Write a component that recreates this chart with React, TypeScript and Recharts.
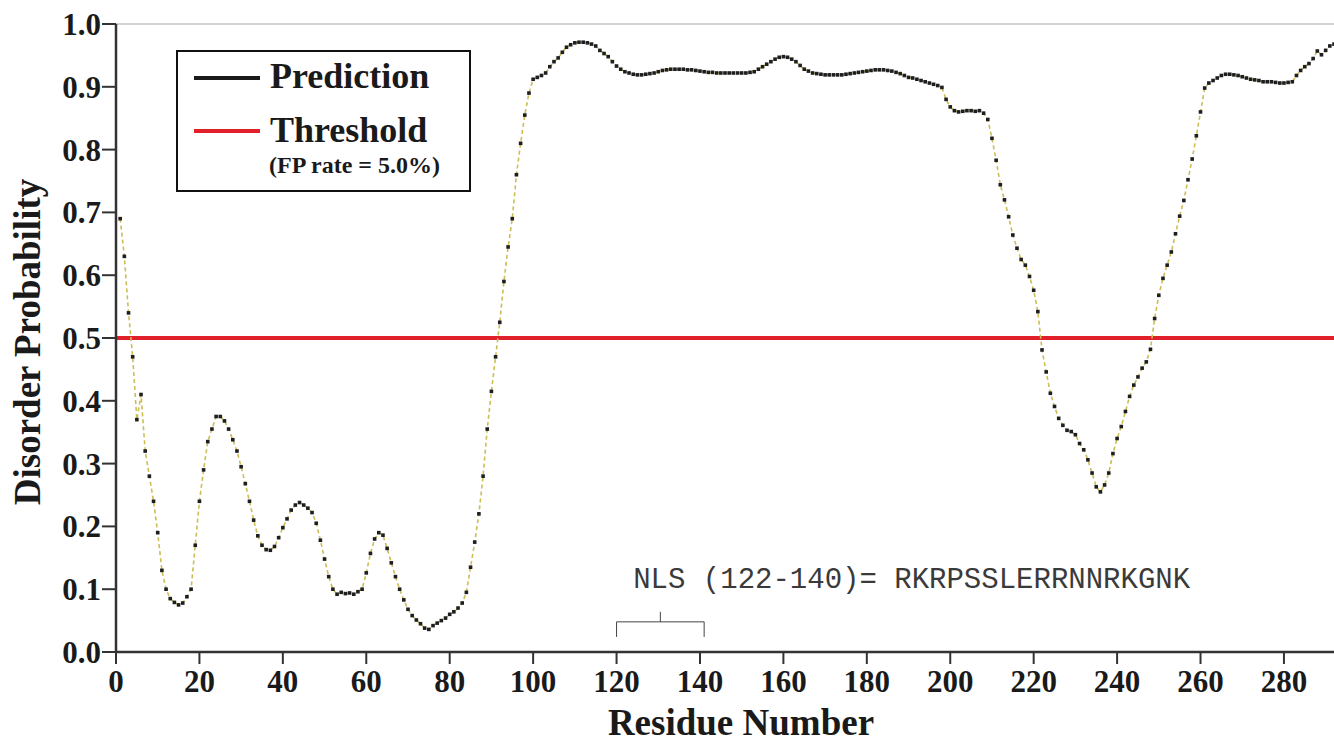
import { LineChart, Line, XAxis, YAxis, ReferenceLine, ReferenceDot } from 'recharts'

// disorder probability per residue, residues 1..292
const disorder = [
  0.69, 0.63, 0.54, 0.47, 0.37, 0.41, 0.32, 0.28, 0.24, 0.19,
  0.13, 0.10, 0.085, 0.079, 0.075, 0.078, 0.088, 0.10, 0.17, 0.24,
  0.29, 0.335, 0.355, 0.375, 0.375, 0.368, 0.355, 0.338, 0.32, 0.295,
  0.268, 0.24, 0.21, 0.185, 0.17, 0.163, 0.162, 0.168, 0.182, 0.198,
  0.212, 0.226, 0.234, 0.238, 0.234, 0.229, 0.222, 0.205, 0.178, 0.148,
  0.12, 0.10, 0.092, 0.095, 0.093, 0.094, 0.092, 0.096, 0.10, 0.126,
  0.157, 0.18, 0.19, 0.186, 0.165, 0.142, 0.12, 0.10, 0.083, 0.068,
  0.058, 0.051, 0.045, 0.038, 0.036, 0.042, 0.046, 0.05, 0.054, 0.06,
  0.064, 0.07, 0.078, 0.095, 0.135, 0.175, 0.22, 0.28, 0.355, 0.415,
  0.47, 0.525, 0.59, 0.645, 0.69, 0.76, 0.81, 0.855, 0.89, 0.912,
  0.915, 0.918, 0.922, 0.932, 0.94, 0.946, 0.955, 0.963, 0.967, 0.97,
  0.971, 0.971, 0.97, 0.968, 0.965, 0.958, 0.953, 0.948, 0.94, 0.933,
  0.928, 0.924, 0.922, 0.92, 0.919, 0.919, 0.92, 0.921, 0.922, 0.924,
  0.926, 0.927, 0.928, 0.928, 0.928, 0.928, 0.927, 0.927, 0.926, 0.925,
  0.924, 0.923, 0.923, 0.922, 0.922, 0.922, 0.922, 0.922, 0.922, 0.922,
  0.922, 0.923, 0.924, 0.928, 0.932, 0.936, 0.94, 0.944, 0.947, 0.948,
  0.947, 0.944, 0.94, 0.934, 0.928, 0.925, 0.922, 0.921, 0.92, 0.919,
  0.919, 0.919, 0.919, 0.919, 0.92, 0.921, 0.922, 0.923, 0.924, 0.925,
  0.926, 0.927, 0.927, 0.927, 0.926, 0.925, 0.923, 0.921, 0.918, 0.915,
  0.914, 0.912, 0.91, 0.908, 0.906, 0.904, 0.902, 0.899, 0.88, 0.868,
  0.862, 0.86, 0.861, 0.862, 0.862, 0.861, 0.862, 0.858, 0.848, 0.818,
  0.783, 0.744, 0.72, 0.693, 0.664, 0.643, 0.625, 0.616, 0.598, 0.576,
  0.542, 0.481, 0.446, 0.412, 0.391, 0.372, 0.361, 0.353, 0.351, 0.346,
  0.332, 0.322, 0.306, 0.285, 0.263, 0.255, 0.266, 0.285, 0.316, 0.34,
  0.359, 0.383, 0.407, 0.425, 0.438, 0.452, 0.462, 0.482, 0.531, 0.568,
  0.595, 0.616, 0.637, 0.666, 0.694, 0.719, 0.752, 0.785, 0.822, 0.86,
  0.898, 0.906, 0.91, 0.914, 0.918, 0.92, 0.92, 0.919, 0.918, 0.916,
  0.914, 0.912, 0.911, 0.91, 0.908, 0.908, 0.908, 0.907, 0.906, 0.906,
  0.907, 0.908, 0.918, 0.926, 0.932, 0.937, 0.945, 0.957, 0.951, 0.958,
  0.965, 0.968,
]
const firstResidue = 1

const xTicks = [0, 20, 40, 60, 80, 100, 120, 140, 160, 180, 200, 220, 240, 260, 280]
const yTicks = [0, 0.1, 0.2, 0.3, 0.4, 0.5, 0.6, 0.7, 0.8, 0.9, 1.0]
const threshold = 0.5

// NLS annotation: region, label anchor and bracket heights (in data units)
const nlsRange = [120, 141]
const nlsLabel = 'NLS (122-140)= RKRPSSLERRNNRKGNK'
const nlsLabelAt = [124, 0.102]
const bracketLevels = [0.048, 0.024, 0.064] // bar, ends, centre tick

const data = disorder.map((v, i) => ({ residue: firstResidue + i, p: v }))

const serif = '"Liberation Serif", "Times New Roman", serif'
const tickStyle = { fill: '#1a1a1a', fontSize: 31, fontWeight: 700, fontFamily: serif }
const titleStyle = { fill: '#1a1a1a', fontSize: 37, fontWeight: 700, fontFamily: serif }

const SquareDot = (props: any) => {
  const { cx, cy, index } = props
  if (cx == null || cy == null) return null
  return <rect key={`d-${index}`} x={cx - 1.8} y={cy - 1.8} width={3.6} height={3.6} fill="#1e1e1e" />
}

const LegendBox = () => (
  <div
    style={{
      position: 'absolute',
      left: 176,
      top: 50,
      width: 291,
      height: 138,
      border: '2px solid #111',
      background: '#fff',
      fontFamily: serif,
      fontWeight: 700,
      color: '#1a1a1a',
    }}
  >
    <div style={{ position: 'absolute', left: 16, top: 24, width: 66, height: 4, background: '#1a1a1a' }} />
    <div style={{ position: 'absolute', left: 92, top: 4, fontSize: 36, lineHeight: '40px' }}>Prediction</div>
    <div style={{ position: 'absolute', left: 16, top: 77, width: 66, height: 4, background: '#e0202a' }} />
    <div style={{ position: 'absolute', left: 92, top: 58, fontSize: 36, lineHeight: '40px' }}>Threshold</div>
    <div style={{ position: 'absolute', left: 91, top: 99, fontSize: 24, lineHeight: '28px' }}>(FP rate = 5.0%)</div>
  </div>
)

const NlsText = (props: any) => {
  const vb = props.viewBox || {}
  return (
    <text x={vb.x} y={vb.y} fill="#3a3a3a" fontSize={29} fontFamily='"Liberation Mono", "Courier New", monospace'>
      {nlsLabel}
    </text>
  )
}

const YTitle = (props: any) => {
  const vb = props.viewBox || { x: 0, y: 24, width: 116, height: 628 }
  const cx = vb.x + 40
  const cy = vb.y + vb.height / 2 + 4
  return (
    <text transform={`translate(${cx},${cy}) rotate(-90)`} textAnchor="middle" style={titleStyle}>
      Disorder Probability
    </text>
  )
}

const XTitle = (props: any) => {
  const vb = props.viewBox || { x: 116, y: 652, width: 1218, height: 92 }
  return (
    <text x={vb.x + vb.width / 2 + 16} y={vb.y + 83} textAnchor="middle" style={titleStyle}>
      Residue Number
    </text>
  )
}

export default function App() {
  const [x0, x1] = nlsRange
  const [barY, endY, tipY] = bracketLevels
  const xMid = (x0 + x1) / 2
  return (
    <div style={{ position: 'absolute', left: 0, top: 0, width: 1334, height: 744, background: '#fff' }}>
      <LineChart width={1334} height={744} data={data} margin={{ top: 24, right: 0, bottom: 0, left: 0 }}>
        <XAxis
          dataKey="residue"
          type="number"
          domain={[0, 292]}
          ticks={xTicks}
          allowDataOverflow
          tick={tickStyle}
          tickSize={12}
          tickMargin={6}
          height={92}
          axisLine={{ stroke: '#333', strokeWidth: 2.5 }}
          tickLine={{ stroke: '#333', strokeWidth: 2 }}
          label={<XTitle />}
        />
        <YAxis
          type="number"
          domain={[0, 1]}
          ticks={yTicks}
          tickFormatter={(v: number) => v.toFixed(1)}
          tick={tickStyle}
          tickSize={14}
          tickMargin={1}
          width={116}
          axisLine={{ stroke: '#333', strokeWidth: 2.5 }}
          tickLine={{ stroke: '#333', strokeWidth: 2 }}
          label={<YTitle />}
        />
        <ReferenceLine y={1} stroke="#c4c4c4" strokeWidth={1.5} />
        <ReferenceLine y={threshold} stroke="#e0202a" strokeWidth={4} />
        <ReferenceLine segment={[{ x: x0, y: barY }, { x: x1, y: barY }]} stroke="#444" strokeWidth={1} />
        <ReferenceLine segment={[{ x: x0, y: barY }, { x: x0, y: endY }]} stroke="#444" strokeWidth={1} />
        <ReferenceLine segment={[{ x: x1, y: barY }, { x: x1, y: endY }]} stroke="#444" strokeWidth={1} />
        <ReferenceLine segment={[{ x: xMid, y: barY }, { x: xMid, y: tipY }]} stroke="#444" strokeWidth={1} />
        <ReferenceDot x={nlsLabelAt[0]} y={nlsLabelAt[1]} r={0} fill="none" stroke="none" label={<NlsText />} />
        <Line
          type="linear"
          dataKey="p"
          stroke="#cdbd55"
          strokeWidth={1.6}
          strokeDasharray="4 3"
          dot={<SquareDot />}
          activeDot={false}
          isAnimationActive={false}
        />
      </LineChart>
      <LegendBox />
    </div>
  )
}
